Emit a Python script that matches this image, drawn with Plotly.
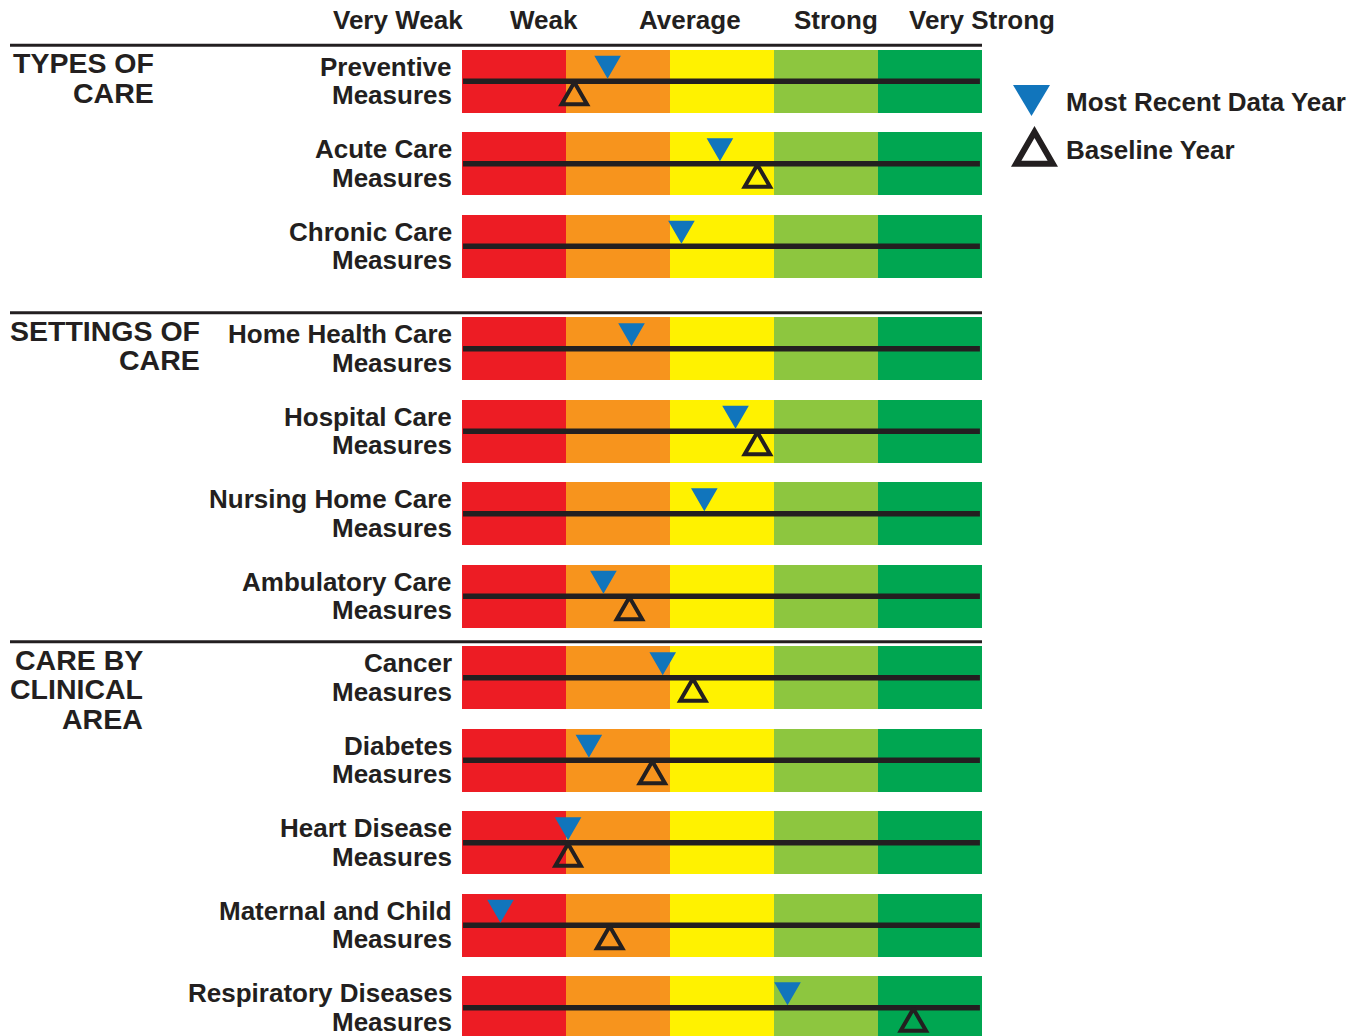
import plotly.graph_objects as go

# ---- data -------------------------------------------------------------
categories = ["Very Weak", "Weak", "Average", "Strong", "Very Strong"]

section_titles = [
    ["TYPES OF", "CARE"],
    ["SETTINGS OF", "CARE"],
    ["CARE BY", "CLINICAL", "AREA"],
]

measure_names = [
    "Preventive", "Acute Care", "Chronic Care",
    "Home Health Care", "Hospital Care", "Nursing Home Care", "Ambulatory Care",
    "Cancer", "Diabetes", "Heart Disease", "Maternal and Child",
    "Respiratory Diseases",
]
measure_section = [0, 0, 0, 1, 1, 1, 1, 2, 2, 2, 2, 2]

# scores on a 0-5 scale (each category spans one unit)
recent_score = [1.40, 2.48, 2.11, 1.63, 2.63, 2.33, 1.36, 1.93, 1.22, 1.02, 0.37, 3.13]
baseline_score = [1.08, 2.84, None, None, 2.84, None, 1.61, 2.22, 1.83, 1.02, 1.42, 4.34]

legend_labels = ["Most Recent Data Year", "Baseline Year"]

# ---- styling / layout constants --------------------------------------
W, H = 1369, 1036
X0_PX, UNIT_X = 462, 104          # pixel of score 0, pixels per category
Y0_PX, PITCH = 81.3, 82.5         # first row centre, row pitch (px)
SECTION_OFFSET_PX = [0, 20, 19]   # extra vertical offset of each section
BAR_PX = 62.7
INK = "#231f20"
BLUE = "#1175bc"
SEG_COLORS = ["#ed1c24", "#f7941d", "#fff200", "#8dc63f", "#00a651"]
FONT = dict(family="Liberation Sans, Arial, sans-serif", size=26, color=INK, weight="bold")
TITLE_FONT = dict(FONT, size=28.5)
SECTION_RIGHT_PX = [156, 202, 145]


def ux(px):
    return px / UNIT_X


def uy(px):
    return px / PITCH


n_rows = len(measure_names)
row_y = [i + SECTION_OFFSET_PX[measure_section[i]] / PITCH for i in range(n_rows)]

fig = go.Figure()

# coloured rating bands
for k, (cat, col) in enumerate(zip(categories, SEG_COLORS)):
    fig.add_trace(go.Bar(
        orientation="h", y=row_y, x=[1] * n_rows, base=[k] * n_rows,
        width=uy(BAR_PX), marker=dict(color=col, line=dict(width=0)),
        name=cat, hoverinfo="skip",
    ))

# dark track line across each band
lx, ly = [], []
for y in row_y:
    lx += [0.01, len(categories) - 0.02, None]
    ly += [y, y, None]
fig.add_trace(go.Scatter(x=lx, y=ly, mode="lines",
                         line=dict(color=INK, width=5.5), hoverinfo="skip"))

# most recent year: solid downward triangle sitting on the track
bx, by = [], []
hw = ux(13.3)
for v, y in zip(recent_score, row_y):
    if v is None:
        continue
    top, tip = y - uy(25.5), y - uy(2.5)
    bx += [v - hw, v + hw, v, v - hw, None]
    by += [top, top, tip, top, None]
fig.add_trace(go.Scatter(x=bx, y=by, mode="lines", fill="toself",
                         fillcolor=BLUE, line=dict(width=0, color=BLUE),
                         name=legend_labels[0], hoverinfo="skip"))

# baseline year: open upward triangle hanging below the track
ox, oy = [], []
hw2 = ux(12.7)
for v, y in zip(baseline_score, row_y):
    if v is None:
        continue
    apex, base = y + uy(1), y + uy(23)
    ox += [v - hw2, v + hw2, v, v - hw2, v + hw2, None]
    oy += [base, base, apex, base, base, None]
fig.add_trace(go.Scatter(x=ox, y=oy, mode="lines",
                         line=dict(color=INK, width=4),
                         name=legend_labels[1], hoverinfo="skip"))

annotations = []
shapes = []

# column headings
for k, cat in enumerate(categories):
    annotations.append(dict(
        text=cat, xref="paper", yref="paper",
        x=(398 + 146 * k) / W, y=1 - 20 / H,
        xanchor="center", yanchor="middle", showarrow=False, font=FONT))

# row labels
for name, y in zip(measure_names, row_y):
    for line, shift in ((name, 14.5), ("Measures", -14)):
        annotations.append(dict(
            text=line, xref="x", yref="y", x=0, y=y, xshift=-8, yshift=shift,
            xanchor="right", yanchor="middle", showarrow=False, font=FONT))

# section titles and separators
for s, lines in enumerate(section_titles):
    first = measure_section.index(s)
    y0 = row_y[first]
    for j, line in enumerate(lines):
        annotations.append(dict(
            text=line, xref="paper", yref="y",
            x=SECTION_RIGHT_PX[s] / W, y=y0, yshift=18 - 29.5 * j,
            xanchor="right", yanchor="middle", showarrow=False, font=TITLE_FONT))
    sep = y0 - uy(36)
    shapes.append(dict(type="line", xref="x", yref="y",
                       x0=-ux(X0_PX - 10), x1=len(categories), y0=sep, y1=sep,
                       line=dict(color=INK, width=3)))


# legend
def ppath(pts):
    return "M " + " L ".join(f"{x / W:.5f},{1 - y / H:.5f}" for x, y in pts) + " Z"


shapes.append(dict(type="path", xref="paper", yref="paper",
                   path=ppath([(1013, 85), (1050, 85), (1031.5, 116)]),
                   fillcolor=BLUE, line=dict(width=0)))
shapes.append(dict(type="path", xref="paper", yref="paper",
                   path=ppath([(1016.2, 163.7), (1052.8, 163.7), (1034.5, 132)]),
                   fillcolor="rgba(0,0,0,0)", line=dict(color=INK, width=6)))
for label, ypx in zip(legend_labels, (102, 150)):
    annotations.append(dict(
        text=label, xref="paper", yref="paper", x=1064 / W, y=1 - ypx / H,
        xanchor="left", yanchor="middle", showarrow=False, font=FONT))

fig.update_layout(
    width=W, height=H, autosize=False,
    margin=dict(l=0, r=0, t=0, b=0, pad=0),
    paper_bgcolor="white", plot_bgcolor="white",
    barmode="overlay", bargap=0, showlegend=False,
    xaxis=dict(range=[-ux(X0_PX), ux(W - X0_PX)], visible=False, fixedrange=True),
    yaxis=dict(range=[uy(H - Y0_PX), -uy(Y0_PX)], visible=False, fixedrange=True),
    annotations=annotations, shapes=shapes,
)

fig.write_html("out.html")
